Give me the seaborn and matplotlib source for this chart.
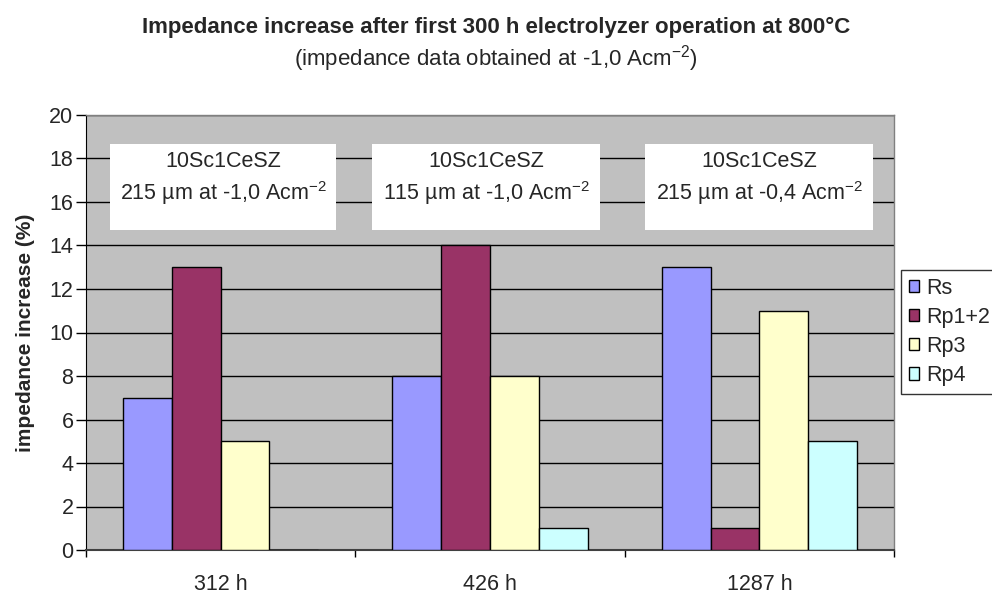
import matplotlib
matplotlib.use("Agg")
import matplotlib.pyplot as plt
import seaborn as sns
import pandas as pd
from matplotlib.patches import Patch, Rectangle

categories = ["312 h", "426 h", "1287 h"]
series = ["Rs", "Rp1+2", "Rp3", "Rp4"]
rs = [7, 8, 13]
rp12 = [13, 14, 1]
rp3 = [5, 8, 11]
rp4 = [0, 1, 5]
colors = ["#9999FF", "#993366", "#FFFFCC", "#CCFFFF"]
box_line1 = ["10Sc1CeSZ", "10Sc1CeSZ", "10Sc1CeSZ"]
box_line2 = [
    "215 µm at -1,0 Acm$^{-2}$",
    "115 µm at -1,0 Acm$^{-2}$",
    "215 µm at -0,4 Acm$^{-2}$",
]
yticks = list(range(0, 21, 2))

rows = []
for name, vals in zip(series, [rs, rp12, rp3, rp4]):
    for c, v in zip(categories, vals):
        rows.append({"time": c, "series": name, "value": v})
df = pd.DataFrame(rows)

sns.set_style("white")
plt.rcParams["font.family"] = ["Liberation Sans", "DejaVu Sans"]
plt.rcParams["mathtext.fontset"] = "custom"
plt.rcParams["mathtext.rm"] = "Liberation Sans"
plt.rcParams["mathtext.it"] = "Liberation Sans"
plt.rcParams["mathtext.default"] = "regular"

W, H = 992, 594
fig = plt.figure(figsize=(W/100, H/100), dpi=100)
L, R, T, B = 86, 894, 115, 550
ax = fig.add_axes([L/W, 1-B/H, (R-L)/W, (B-T)/H])
ax.set_facecolor("#C0C0C0")

sns.barplot(data=df, x="time", y="value", hue="series", order=categories,
            hue_order=series, palette=colors, width=0.725, gap=0,
            edgecolor="black", linewidth=1, saturation=1, ax=ax, legend=False)

ax.set_ylim(0, 20)
ax.set_xlim(-0.5, 2.5)
ax.set_yticks(yticks)
ax.yaxis.grid(True, color="black", linewidth=1)
ax.set_axisbelow(True)
for b in ax.patches:
    b.set_zorder(3)

ax.tick_params(axis="y", which="both", direction="out", length=7, width=1,
               color="black", labelsize=15.5, left=True, pad=2)
ax.set_xticks([0, 1, 2])
ax.set_xticklabels(categories, fontsize=15.5)
ax.tick_params(axis="x", which="major", length=0, pad=17)
ax.set_xticks([-0.5, 0.5, 1.5, 2.5], minor=True)
ax.tick_params(axis="x", which="minor", direction="out", length=5, width=1, color="black", bottom=True)

for s in ["top", "right"]:
    ax.spines[s].set_color("#808080")
    ax.spines[s].set_linewidth(1)
ax.spines["left"].set_color("black")
ax.spines["bottom"].set_color("#404040")
ax.spines["bottom"].set_linewidth(1.5)

ax.set_xlabel("")
ax.set_ylabel("impedance increase (%)", fontsize=15, fontweight="bold", labelpad=10)

# text boxes (pixel positions converted to axes fraction)
box_x = [(110, 336), (372, 600), (645, 873)]
by0, by1 = 144, 230
for (x0, x1), t1, t2 in zip(box_x, box_line1, box_line2):
    fx0 = (x0 - L) / (R - L)
    fw = (x1 - x0) / (R - L)
    fy0 = (B - by1) / (B - T)
    fh = (by1 - by0) / (B - T)
    ax.add_patch(Rectangle((fx0, fy0), fw, fh, transform=ax.transAxes,
                           facecolor="white", edgecolor="none", zorder=4))
    cx = fx0 + fw / 2
    ax.text(cx, (B - 162) / (B - T), t1, transform=ax.transAxes, ha="center",
            va="center", fontsize=15.5, zorder=5)
    ax.text(cx, (B - 193) / (B - T), t2, transform=ax.transAxes, ha="center",
            va="center", fontsize=15.5, zorder=5)

handles = [Patch(facecolor=c, edgecolor="black", label=s) for c, s in zip(colors, series)]
leg = fig.legend(handles=handles, loc="upper left", bbox_to_anchor=(901/W, 1-270/H),
                 frameon=True, fontsize=15.5, handlelength=0.5, handleheight=0.5,
                 handletextpad=0.3, borderpad=0.35, labelspacing=0.38, fancybox=False,
                 borderaxespad=0)
leg.get_frame().set_edgecolor("black")
leg.get_frame().set_linewidth(1)

fig.text(0.5, 1-27/H, "Impedance increase after first 300 h electrolyzer operation at 800°C",
         ha="center", va="center", fontsize=16, fontweight="bold")
fig.text(0.5, 1-59/H, "(impedance data obtained at -1,0 Acm$^{-2}$)",
         ha="center", va="center", fontsize=16)

fig.savefig("out.png", dpi=100, facecolor="white")
